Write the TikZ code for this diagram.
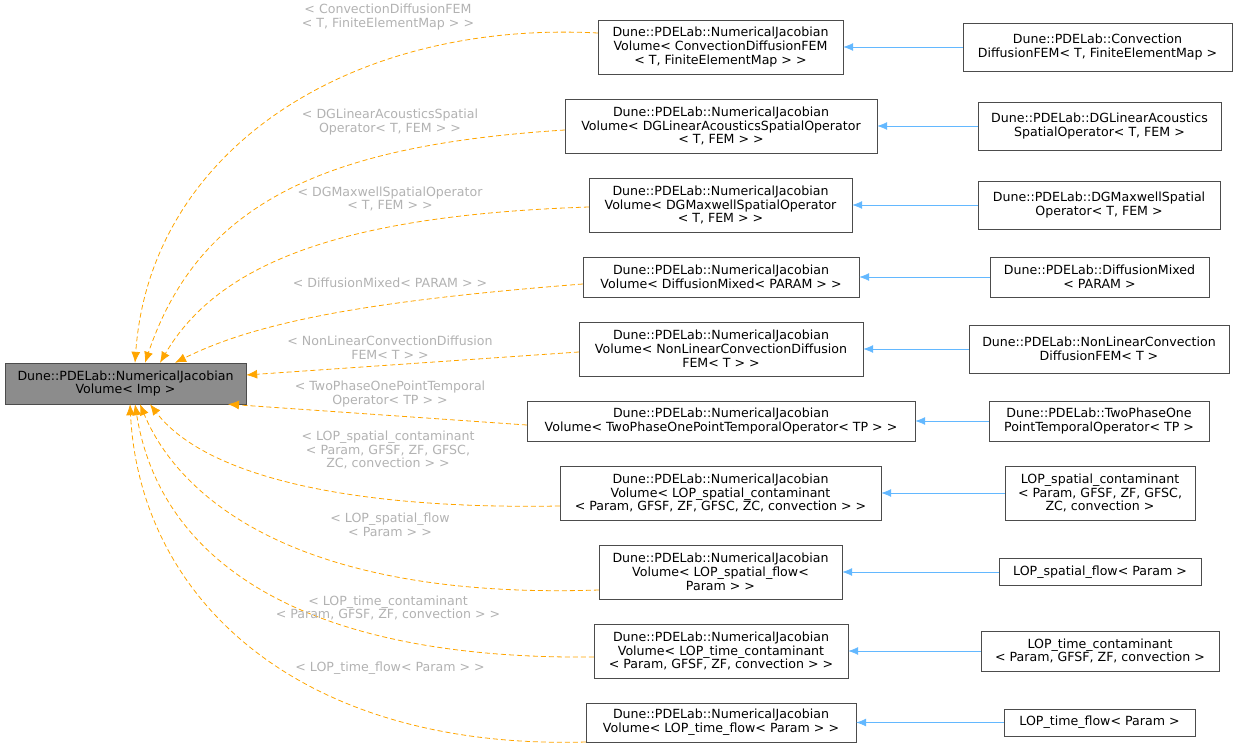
\documentclass[tikz,border=0pt]{standalone}
\usepackage{fontspec}
\setmainfont{DejaVu Sans}
\usetikzlibrary{arrows.meta}
\definecolor{dox}{HTML}{FFA500}
\definecolor{doxb}{HTML}{63B8FF}
\begin{document}
\begin{tikzpicture}[x=1pt,y=-1pt,
 box/.style={draw=black!70,fill=white,align=center,font=\fontsize{12.6}{13.8}\selectfont,inner sep=1pt},
 lab/.style={align=center,text=black!30,font=\fontsize{12.6}{13.8}\selectfont},
 inh/.style={draw=doxb,line width=0.8pt,-{Latex[length=10pt,width=8pt]}},
 tpl/.style={draw=dox,line width=0.8pt,dash pattern=on 5pt off 3pt,-{Latex[length=11pt,width=9pt]}}]
\useasboundingbox (0,0) rectangle (1241,749);
\node[box,fill=black!45,minimum width=241pt,minimum height=41pt] (r) at (125.5,383.5) {Dune::PDELab::NumericalJacobian\\Volume< Imp >};
\node[box,minimum width=245pt,minimum height=54pt] (m1) at (720.5,47) {Dune::PDELab::NumericalJacobian\\Volume< ConvectionDiffusionFEM\\< T, FiniteElementMap > >};
\node[box,minimum width=312pt,minimum height=54pt] (m2) at (721,126) {Dune::PDELab::NumericalJacobian\\Volume< DGLinearAcousticsSpatialOperator\\< T, FEM > >};
\node[box,minimum width=263pt,minimum height=54pt] (m3) at (720.5,205) {Dune::PDELab::NumericalJacobian\\Volume< DGMaxwellSpatialOperator\\< T, FEM > >};
\node[box,minimum width=276pt,minimum height=40pt] (m4) at (721,277) {Dune::PDELab::NumericalJacobian\\Volume< DiffusionMixed< PARAM > >};
\node[box,minimum width=284pt,minimum height=54pt] (m5) at (721,349) {Dune::PDELab::NumericalJacobian\\Volume< NonLinearConvectionDiffusion\\FEM< T > >};
\node[box,minimum width=388pt,minimum height=40pt] (m6) at (721,421) {Dune::PDELab::NumericalJacobian\\Volume< TwoPhaseOnePointTemporalOperator< TP > >};
\node[box,minimum width=321pt,minimum height=54pt] (m7) at (720.5,493) {Dune::PDELab::NumericalJacobian\\Volume< LOP\_spatial\_contaminant\\< Param, GFSF, ZF, GFSC, ZC, convection > >};
\node[box,minimum width=243pt,minimum height=54pt] (m8) at (720.5,572) {Dune::PDELab::NumericalJacobian\\Volume< LOP\_spatial\_flow<\\Param > >};
\node[box,minimum width=254pt,minimum height=54pt] (m9) at (721,651) {Dune::PDELab::NumericalJacobian\\Volume< LOP\_time\_contaminant\\< Param, GFSF, ZF, convection > >};
\node[box,minimum width=270pt,minimum height=39pt] (m10) at (721,722.5) {Dune::PDELab::NumericalJacobian\\Volume< LOP\_time\_flow< Param > >};
\node[box,minimum width=269pt,minimum height=48pt] (s1) at (1097.5,47) {Dune::PDELab::Convection\\DiffusionFEM< T, FiniteElementMap >};
\node[box,minimum width=243pt,minimum height=48pt] (s2) at (1099.5,126) {Dune::PDELab::DGLinearAcoustics\\SpatialOperator< T, FEM >};
\node[box,minimum width=242pt,minimum height=48pt] (s3) at (1099,205) {Dune::PDELab::DGMaxwellSpatial\\Operator< T, FEM >};
\node[box,minimum width=219pt,minimum height=40pt] (s4) at (1099.5,277) {Dune::PDELab::DiffusionMixed\\< PARAM >};
\node[box,minimum width=260pt,minimum height=48pt] (s5) at (1099,349) {Dune::PDELab::NonLinearConvection\\DiffusionFEM< T >};
\node[box,minimum width=220pt,minimum height=40pt] (s6) at (1099,421) {Dune::PDELab::TwoPhaseOne\\PointTemporalOperator< TP >};
\node[box,minimum width=190pt,minimum height=54pt] (s7) at (1100,493) {LOP\_spatial\_contaminant\\< Param, GFSF, ZF, GFSC,\\ZC, convection >};
\node[box,minimum width=202pt,minimum height=27pt] (s8) at (1100,572) {LOP\_spatial\_flow< Param >};
\node[box,minimum width=238pt,minimum height=40pt] (s9) at (1100,651) {LOP\_time\_contaminant\\< Param, GFSF, ZF, convection >};
\node[box,minimum width=191pt,minimum height=27pt] (s10) at (1099.5,722.5) {LOP\_time\_flow< Param >};
\foreach \i in {1,...,10} {\draw[inh] (s\i.west) -- (m\i.east);}
\draw[tpl] (m1.west|-0,33) .. controls (350,20) and (150,150) .. (r.north-|135,0);
\draw[tpl] (m2.west|-0,130) .. controls (330,145) and (200,200) .. (r.north-|145,0);
\draw[tpl] (m3.west|-0,207) .. controls (350,215) and (220,260) .. (r.north-|160,0);
\draw[tpl] (m4.west|-0,284) .. controls (380,300) and (260,320) .. (r.north-|175,0);
\draw[tpl] (m5.west|-0,352) -- (r.east|-0,375);
\draw[tpl] (m6.west|-0,425) -- (r.south-|228,0);
\draw[tpl] (m7.west|-0,506) .. controls (330,510) and (200,470) .. (r.south-|150,0);
\draw[tpl] (m8.west|-0,590) .. controls (300,600) and (180,500) .. (r.south-|140,0);
\draw[tpl] (m9.west|-0,657) .. controls (300,660) and (160,560) .. (r.south-|135,0);
\draw[tpl] (m10.west|-0,742) .. controls (300,750) and (140,600) .. (r.south-|130,0);
\node[lab] (l1) at (388,17) {< ConvectionDiffusionFEM\\< T, FiniteElementMap > >};
\node[lab] (l2) at (390,122) {< DGLinearAcousticsSpatial\\Operator< T, FEM > >};
\node[lab] (l3) at (390,199) {< DGMaxwellSpatialOperator\\< T, FEM > >};
\node[lab] (l4) at (390,283) {< DiffusionMixed< PARAM > >};
\node[lab] (l5) at (390,348) {< NonLinearConvectionDiffusion\\FEM< T > >};
\node[lab] (l6) at (390,394) {< TwoPhaseOnePointTemporal\\Operator< TP > >};
\node[lab] (l7) at (388,450) {< LOP\_spatial\_contaminant\\< Param, GFSF, ZF, GFSC,\\ZC, convection > >};
\node[lab] (l8) at (390,525) {< LOP\_spatial\_flow\\< Param > >};
\node[lab] (l9) at (388,608) {< LOP\_time\_contaminant\\< Param, GFSF, ZF, convection > >};
\node[lab] (l10) at (390,668) {< LOP\_time\_flow< Param > >};
\end{tikzpicture}
\end{document}
